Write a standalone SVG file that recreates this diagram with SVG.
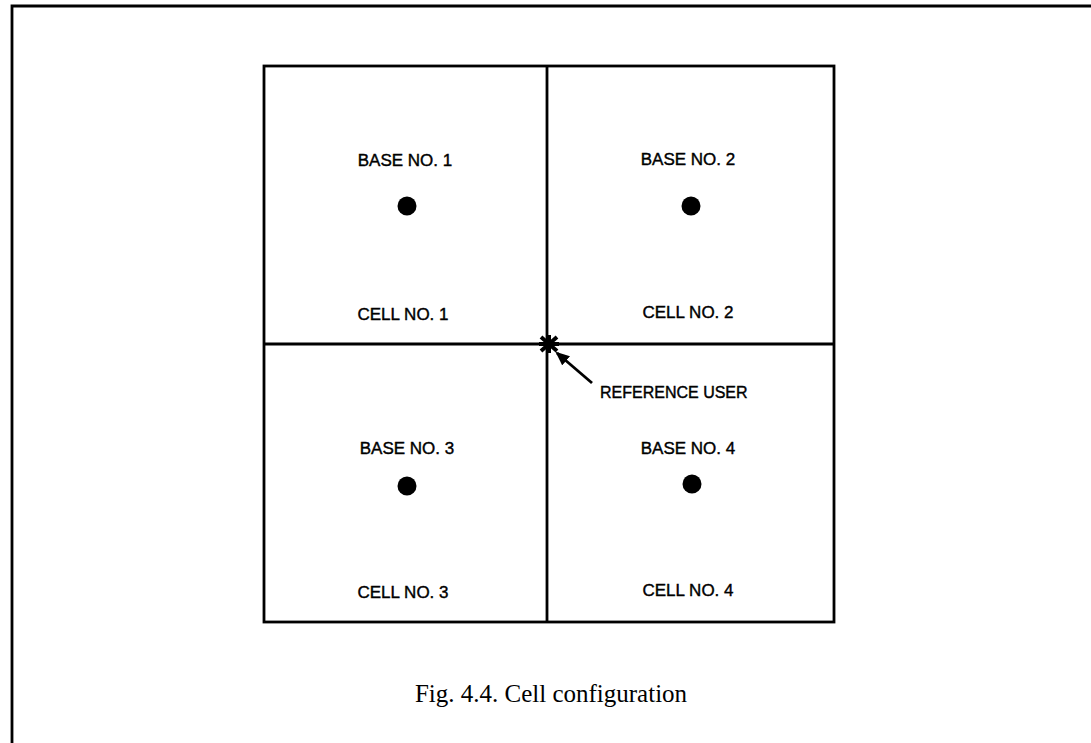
<svg xmlns="http://www.w3.org/2000/svg" width="1091" height="743" viewBox="0 0 1091 743">
<style>
.ln{stroke:#000;stroke-width:2.8;fill:none}
.lbl{font-family:"Liberation Sans",Arial,sans-serif;font-size:17px;fill:#000;stroke:#000;stroke-width:0.4;text-anchor:middle}
.dot{fill:#000}
.cap{font-family:"Liberation Serif","Times New Roman",serif;font-size:25px;fill:#000;text-anchor:middle}
</style>
<defs>
<marker id="ah" markerWidth="14" markerHeight="12" refX="12" refY="6" orient="auto" markerUnits="userSpaceOnUse" viewBox="0 0 14 12">
<path d="M0,0 L14,6 L0,12 Z" fill="#000"/>
</marker>
</defs>
<rect width="1091" height="743" fill="#fff"/>
<g id="frame">
<path class="ln" d="M12,743 L12,6 L1091,6" stroke-width="3"/>
</g>
<g id="grid">
<rect class="ln" x="264" y="66" width="570" height="556"/>
<line class="ln" x1="547" y1="66" x2="547" y2="622"/>
<line class="ln" x1="264" y1="344" x2="834" y2="344"/>
</g>
<g id="cell1">
<text class="lbl" x="405" y="166">BASE NO. 1</text>
<circle class="dot" cx="407" cy="206" r="9.5"/>
<text class="lbl" x="403" y="320">CELL NO. 1</text>
</g>
<g id="cell2">
<text class="lbl" x="688" y="165">BASE NO. 2</text>
<circle class="dot" cx="691" cy="206" r="9.5"/>
<text class="lbl" x="688" y="318">CELL NO. 2</text>
</g>
<g id="cell3">
<text class="lbl" x="407" y="454">BASE NO. 3</text>
<circle class="dot" cx="407" cy="486" r="9.5"/>
<text class="lbl" x="403" y="598">CELL NO. 3</text>
</g>
<g id="cell4">
<text class="lbl" x="688" y="454">BASE NO. 4</text>
<circle class="dot" cx="692" cy="484" r="9.5"/>
<text class="lbl" x="688" y="596">CELL NO. 4</text>
</g>
<g id="user">
<path d="M541,337 L557,351 M557,337 L541,351 M549,335 L549,353 M539,344 L559,344" stroke="#000" stroke-width="4"/>
<text class="lbl" x="600" y="398" style="text-anchor:start;font-size:16px">REFERENCE USER</text>
</g>
<g id="connectors">
<line class="ln" x1="592" y1="383" x2="557" y2="353" stroke-width="3" marker-end="url(#ah)"/>
</g>
<text class="cap" x="551" y="702">Fig. 4.4. Cell configuration</text>
</svg>
